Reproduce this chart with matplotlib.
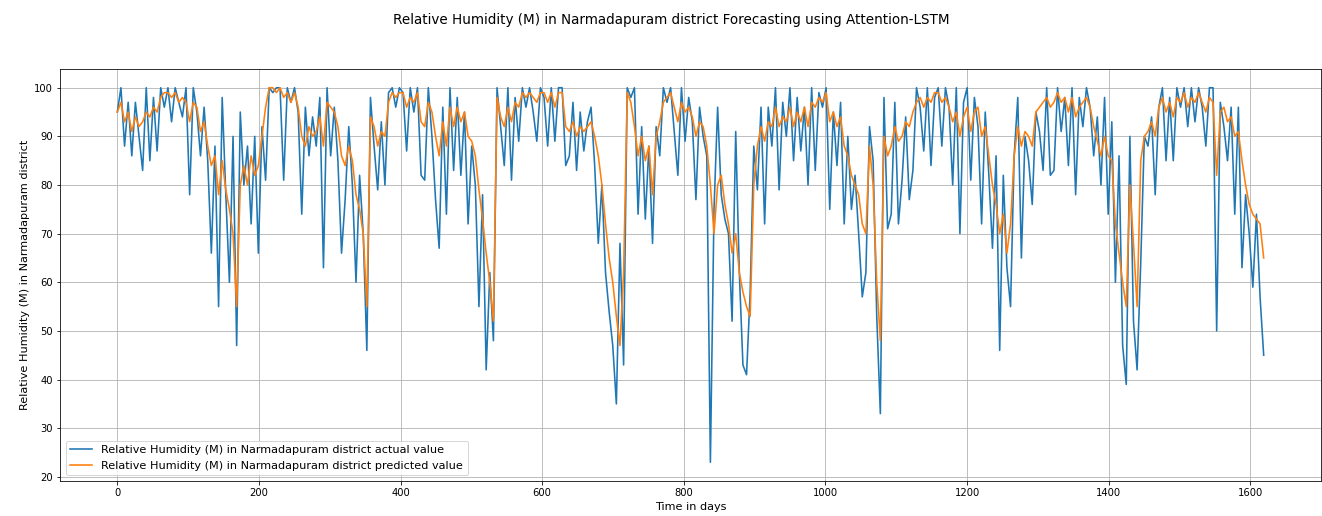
import numpy as np
import matplotlib
matplotlib.use("Agg")
import matplotlib.pyplot as plt

# relative humidity, one value about every 5 days
actual = [
    95, 100, 88, 97, 86, 97, 90, 83, 100, 85, 98, 87, 100, 96, 100, 93, 100, 97, 94, 100,
    78, 100, 95, 86, 96, 85, 66, 88, 55, 98, 78, 60, 90, 47, 95, 80, 88, 72, 90, 66,
    92, 81, 100, 99, 100, 100, 81, 100, 97, 100, 95, 74, 96, 86, 94, 88, 98, 63, 100, 86,
    96, 85, 66, 77, 92, 80, 60, 82, 70, 46, 98, 88, 79, 93, 80, 99, 100, 96, 100, 99,
    87, 100, 95, 100, 82, 81, 100, 90, 77, 67, 96, 74, 100, 83, 98, 82, 95, 72, 88, 80,
    55, 78, 42, 62, 48, 100, 92, 84, 100, 81, 98, 89, 100, 96, 100, 95, 89, 100, 98, 88,
    100, 89, 100, 100, 84, 86, 97, 83, 95, 87, 93, 96, 84, 68, 80, 62, 54, 47, 35, 68,
    43, 100, 98, 100, 74, 92, 73, 88, 68, 92, 86, 100, 97, 100, 91, 82, 100, 89, 98, 93,
    77, 96, 90, 86, 23, 75, 96, 78, 73, 70, 52, 91, 62, 43, 41, 58, 88, 79, 96, 72,
    96, 88, 100, 79, 97, 90, 100, 85, 98, 87, 96, 80, 100, 83, 99, 96, 100, 75, 95, 84,
    97, 72, 90, 75, 82, 70, 57, 62, 92, 85, 53, 33, 98, 71, 74, 97, 72, 81, 94, 77,
    83, 100, 96, 87, 100, 84, 98, 100, 88, 100, 96, 80, 100, 70, 97, 100, 81, 98, 92, 72,
    95, 82, 67, 86, 46, 82, 63, 55, 86, 98, 65, 90, 85, 76, 95, 91, 83, 100, 82, 83,
    100, 91, 98, 84, 100, 78, 98, 92, 100, 96, 86, 94, 80, 98, 74, 93, 60, 86, 47, 39,
    90, 52, 42, 64, 90, 88, 94, 78, 96, 100, 85, 98, 85, 100, 96, 100, 92, 100, 93, 100,
    96, 88, 100, 100, 50, 97, 92, 85, 96, 74, 96, 63, 78, 70, 59, 74, 57, 45,
]

predicted = [
    95, 97, 93, 95, 91, 94, 92, 93, 95, 94, 96, 95, 98, 99, 99, 98, 99, 97, 98, 97,
    93, 97, 96, 91, 93, 88, 84, 86, 78, 85, 79, 75, 70, 55, 80, 84, 80, 86, 82, 84,
    90, 96, 100, 100, 99, 100, 98, 99, 97, 99, 96, 90, 88, 92, 90, 91, 94, 88, 97, 96,
    95, 92, 86, 84, 88, 85, 78, 75, 70, 55, 94, 92, 88, 91, 90, 97, 99, 98, 99, 99,
    96, 98, 97, 99, 93, 92, 97, 95, 90, 86, 93, 88, 96, 92, 96, 93, 95, 90, 89, 86,
    79, 73, 66, 60, 52, 98, 94, 92, 96, 93, 97, 96, 99, 98, 99, 98, 97, 99, 99, 97,
    99, 96, 99, 99, 92, 91, 93, 90, 92, 91, 92, 93, 90, 86, 80, 72, 65, 60, 53, 47,
    62, 99, 97, 92, 86, 90, 85, 88, 78, 90, 93, 97, 98, 99, 96, 93, 97, 95, 96, 94,
    90, 93, 92, 88, 80, 70, 80, 82, 76, 72, 66, 70, 62, 58, 55, 53, 80, 88, 92, 89,
    93, 92, 96, 92, 94, 93, 96, 92, 95, 93, 96, 92, 97, 96, 98, 97, 99, 93, 95, 92,
    94, 88, 86, 82, 80, 78, 72, 70, 88, 80, 60, 48, 90, 86, 88, 92, 89, 90, 93, 92,
    95, 97, 98, 96, 98, 97, 99, 99, 97, 98, 96, 93, 95, 90, 94, 96, 91, 95, 96, 90,
    92, 86, 80, 76, 70, 74, 66, 72, 86, 92, 88, 91, 90, 88, 95, 96, 97, 98, 96, 97,
    99, 97, 98, 95, 98, 94, 96, 97, 98, 96, 92, 89, 86, 90, 86, 85, 72, 66, 60, 55,
    80, 68, 55, 85, 90, 91, 93, 90, 96, 98, 95, 97, 94, 98, 97, 99, 96, 98, 97, 99,
    97, 95, 98, 97, 82, 95, 96, 93, 94, 90, 91, 85, 80, 76, 74, 73, 72, 65,
]

days = np.linspace(0, 1619, len(actual))

fig = plt.figure(figsize=(1322 / 72, 516 / 72), dpi=72)
ax = fig.add_axes([60 / 1322, 35 / 516, 1261 / 1322, 412 / 516])

ax.plot(days, actual, lw=1.6, label='Relative Humidity (M) in Narmadapuram district actual value')
ax.plot(days, predicted, lw=1.6, label='Relative Humidity (M) in Narmadapuram district predicted value')
ax.grid(True)
ax.tick_params(labelsize=10)
ax.set_xlabel('Time in days', fontsize=11.2)
ax.set_ylabel('Relative Humidity (M) in Narmadapuram district', fontsize=11.2)
ax.legend(loc='lower left', fontsize=11.2)
fig.suptitle('Relative Humidity (M) in Narmadapuram district Forecasting using Attention-LSTM',
             x=0.508, y=0.975, fontsize=13.5)

fig.savefig('out.png', dpi=72)
